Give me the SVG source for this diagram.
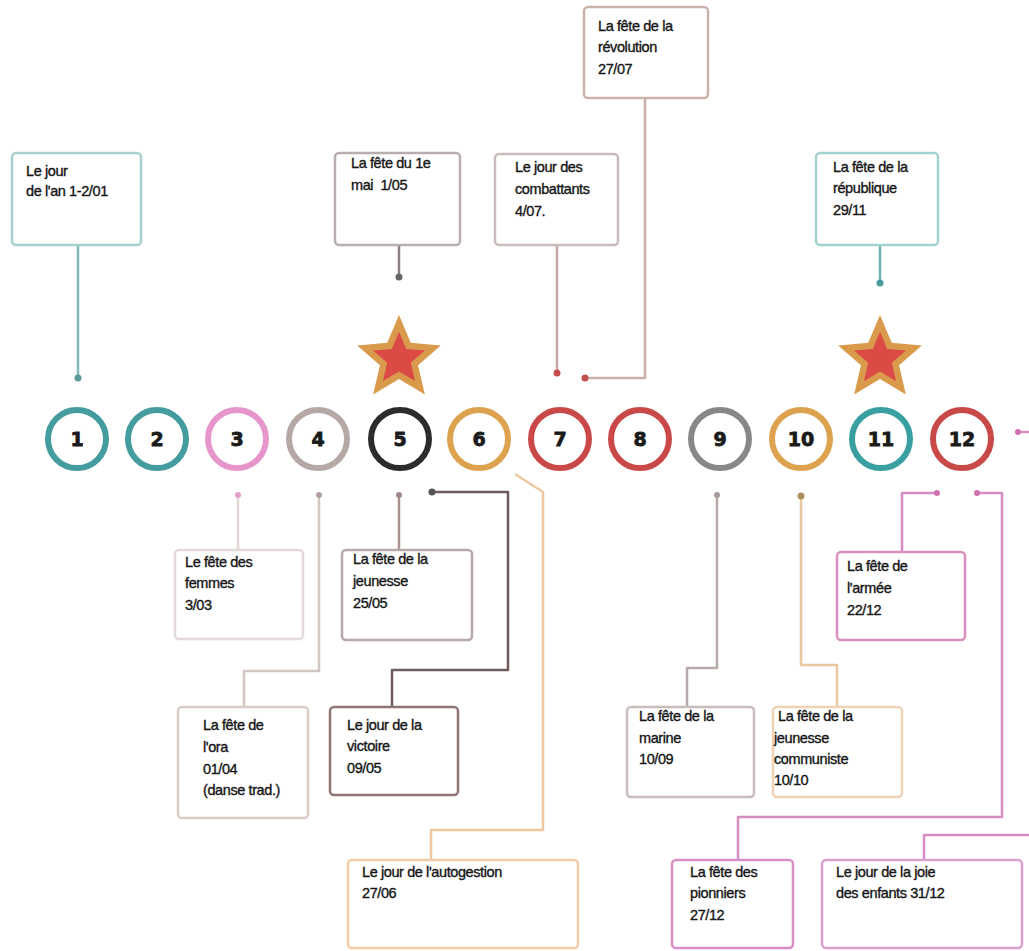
<svg xmlns="http://www.w3.org/2000/svg" width="1029" height="951" viewBox="0 0 1029 951">
<style>
.bx{fill:#fff;stroke-width:2.5}
.t{font-family:"Liberation Sans",Arial,sans-serif;font-size:14.5px;fill:#151515;stroke:#151515;stroke-width:0.35px;letter-spacing:-0.4px;white-space:pre}
.n{font-family:"DejaVu Sans",sans-serif;font-weight:bold;font-size:19px;fill:#1a1a1a;stroke:#1a1a1a;stroke-width:0.8px;text-anchor:middle}
.c{fill:#fff;stroke-width:6}
.ln{fill:none;stroke-width:2.5;stroke-linejoin:round}
</style>
<defs>
<path id="star" d="M0,-44 L11.76,-16.18 L41.84,-13.6 L19.02,6.18 L25.87,35.6 L0,20 L-25.87,35.6 L-19.02,6.18 L-41.84,-13.6 L-11.76,-16.18 Z"/>
</defs>
<rect width="1029" height="951" fill="#fff"/>
<g id="connectors">
<path class="ln" stroke="#7fb9b9" d="M78,246 V377"/><circle cx="78" cy="378" r="3.5" fill="#5a9a9a"/>
<path class="ln" stroke="#8a7e7e" d="M399,245 V276"/><circle cx="399" cy="277" r="3.5" fill="#666"/>
<path class="ln" stroke="#c8a6a6" d="M557,245 V372"/><circle cx="557" cy="373" r="3.5" fill="#c44c4c"/>
<path class="ln" stroke="#c8b0a8" d="M645,98 V378 H586"/><circle cx="585" cy="378" r="3.5" fill="#c05050"/>
<path class="ln" stroke="#6fb3b3" d="M880,245 V282"/><circle cx="880" cy="283" r="3.5" fill="#4a9a9a"/>
<path class="ln" stroke="#e2d4d4" d="M238,496 V550"/><circle cx="238" cy="495" r="3" fill="#e2a0c8"/>
<path class="ln" stroke="#d2c6c2" d="M319,496 V671 H244 V707"/><circle cx="319" cy="495" r="3" fill="#b0a2a0"/>
<path class="ln" stroke="#a89292" d="M399,496 V550"/><circle cx="399" cy="495" r="3" fill="#a08a8a"/>
<path class="ln" stroke="#6e5c5c" d="M432,492 H508 V670 H392 V707"/><circle cx="432" cy="492" r="3.5" fill="#555"/>
<path class="ln" stroke="#f0c8a0" d="M515,474 L543,492 V830 H431 V860"/>
<path class="ln" stroke="#b8aaa8" d="M717,496 V668 H687 V707"/><circle cx="717" cy="495" r="3" fill="#a89a98"/>
<path class="ln" stroke="#e8c8a0" d="M801,497 V665 H837 V707"/><circle cx="801" cy="496" r="3.5" fill="#b09060"/>
<path class="ln" stroke="#d88cc4" d="M936,493 H902 V552"/><circle cx="937" cy="493" r="3" fill="#d070b0"/>
<path class="ln" stroke="#d88cc4" d="M977,493 H1002 V817 H738 V860"/><circle cx="977" cy="493" r="3" fill="#d070b0"/>
<path class="ln" stroke="#d88cc4" d="M1018,432 H1029"/><circle cx="1018" cy="432" r="3" fill="#d070b0"/>
<path class="ln" stroke="#d88cc4" d="M1029,835 H924 V860"/>
</g>
<g id="stars">
<g transform="translate(399,359)"><use href="#star" fill="#d99a4c"/><use href="#star" fill="#dc4a46" transform="scale(0.62)"/></g>
<g transform="translate(880,359)"><use href="#star" fill="#d99a4c"/><use href="#star" fill="#dc4a46" transform="scale(0.62)"/></g>
</g>
<g id="months">
<g id="m1"><circle class="c" cx="77" cy="439" r="29" stroke="#449c9e"/><text class="n" x="77" y="446">1</text></g>
<g id="m2"><circle class="c" cx="157" cy="439" r="29" stroke="#449c9e"/><text class="n" x="157" y="446">2</text></g>
<g id="m3"><circle class="c" cx="237" cy="439" r="29" stroke="#e796cc"/><text class="n" x="237" y="446">3</text></g>
<g id="m4"><circle class="c" cx="318" cy="439" r="29" stroke="#b5a8a5"/><text class="n" x="318" y="446">4</text></g>
<g id="m5"><circle class="c" cx="400" cy="439" r="29" stroke="#2e2b2b"/><text class="n" x="400" y="446">5</text></g>
<g id="m6"><circle class="c" cx="479" cy="439" r="29" stroke="#dca24e"/><text class="n" x="479" y="446">6</text></g>
<g id="m7"><circle class="c" cx="560" cy="439" r="29" stroke="#c94848"/><text class="n" x="560" y="446">7</text></g>
<g id="m8"><circle class="c" cx="640" cy="439" r="29" stroke="#c94848"/><text class="n" x="640" y="446">8</text></g>
<g id="m9"><circle class="c" cx="720" cy="439" r="29" stroke="#878787"/><text class="n" x="720" y="446">9</text></g>
<g id="m10"><circle class="c" cx="801" cy="439" r="29" stroke="#dca24e"/><text class="n" x="801" y="446">10</text></g>
<g id="m11"><circle class="c" cx="881" cy="439" r="29" stroke="#3a9fa0"/><text class="n" x="881" y="446">11</text></g>
<g id="m12"><circle class="c" cx="962" cy="439" r="29" stroke="#c94848"/><text class="n" x="962" y="446">12</text></g>
</g>
<g id="box-an"><rect class="bx" x="12" y="153" width="129" height="92" rx="4" stroke="#a9d0d0"/><text class="t"><tspan x="26" y="176">Le jour</tspan><tspan x="26" y="196">de l'an 1-2/01</tspan></text></g>
<g id="box-mai"><rect class="bx" x="335" y="153" width="125" height="92" rx="4" stroke="#b8aeae" fill="#f3f0f0"/><text class="t"><tspan x="351" y="168">La fête du 1e</tspan><tspan x="351" y="190">mai  1/05</tspan></text></g>
<g id="box-combattants"><rect class="bx" x="495" y="154" width="123" height="91" rx="4" stroke="#cbbaba" fill="#fcf9f9"/><text class="t"><tspan x="515" y="172">Le jour des</tspan><tspan x="515" y="194">combattants</tspan><tspan x="515" y="216">4/07.</tspan></text></g>
<g id="box-revolution"><rect class="bx" x="584" y="7" width="124" height="91" rx="4" stroke="#c9b2aa"/><text class="t"><tspan x="598" y="31">La fête de la</tspan><tspan x="598" y="52">révolution</tspan><tspan x="598" y="74">27/07</tspan></text></g>
<g id="box-republique"><rect class="bx" x="816" y="153" width="122" height="92" rx="4" stroke="#a2d2d2"/><text class="t"><tspan x="833" y="172">La fête de la</tspan><tspan x="833" y="193">république</tspan><tspan x="833" y="215">29/11</tspan></text></g>
<g id="box-femmes"><rect class="bx" x="175" y="550" width="128" height="89" rx="4" stroke="#e2dad8"/><text class="t"><tspan x="185" y="567">Le fête des</tspan><tspan x="185" y="588">femmes</tspan><tspan x="185" y="610">3/03</tspan></text></g>
<g id="box-jeunesse"><rect class="bx" x="342" y="550" width="130" height="90" rx="4" stroke="#b8a8a8" fill="#eeeaea"/><text class="t"><tspan x="353" y="564">La fête de la</tspan><tspan x="353" y="586">jeunesse</tspan><tspan x="353" y="608">25/05</tspan></text></g>
<g id="box-ora"><rect class="bx" x="178" y="707" width="130" height="111" rx="4" stroke="#dacbc7"/><text class="t"><tspan x="203" y="730">La fête de</tspan><tspan x="203" y="752">l'ora</tspan><tspan x="203" y="774">01/04</tspan><tspan x="203" y="795">(danse trad.)</tspan></text></g>
<g id="box-victoire"><rect class="bx" x="330" y="707" width="128" height="88" rx="4" stroke="#8e7676"/><text class="t"><tspan x="347" y="730">Le jour de la</tspan><tspan x="347" y="751">victoire</tspan><tspan x="347" y="773">09/05</tspan></text></g>
<g id="box-autogestion"><rect class="bx" x="348" y="860" width="230" height="88" rx="4" stroke="#f2cba8"/><text class="t"><tspan x="362" y="877">Le jour de l'autogestion</tspan><tspan x="362" y="898">27/06</tspan></text></g>
<g id="box-marine"><rect class="bx" x="627" y="707" width="127" height="90" rx="4" stroke="#cbbcbc"/><text class="t"><tspan x="639" y="721">La fête de la</tspan><tspan x="639" y="743">marine</tspan><tspan x="639" y="764">10/09</tspan></text></g>
<g id="box-jcommuniste"><rect class="bx" x="773" y="707" width="129" height="90" rx="4" stroke="#f0d2b4"/><text class="t"><tspan x="778" y="721">La fête de la</tspan><tspan x="774" y="743">jeunesse</tspan><tspan x="774" y="764">communiste</tspan><tspan x="774" y="785">10/10</tspan></text></g>
<g id="box-armee"><rect class="bx" x="837" y="552" width="128" height="88" rx="4" stroke="#d98fc2"/><text class="t"><tspan x="847" y="571">La fête de</tspan><tspan x="847" y="593">l'armée</tspan><tspan x="847" y="615">22/12</tspan></text></g>
<g id="box-pionniers"><rect class="bx" x="672" y="860" width="121" height="88" rx="4" stroke="#d98fc6"/><text class="t"><tspan x="690" y="877">La fête des</tspan><tspan x="690" y="898">pionniers</tspan><tspan x="690" y="920">27/12</tspan></text></g>
<g id="box-joie"><rect class="bx" x="822" y="860" width="200" height="88" rx="4" stroke="#d9a2cc"/><text class="t"><tspan x="836" y="877">Le jour de la joie</tspan><tspan x="836" y="898">des enfants 31/12</tspan></text></g>
</svg>
